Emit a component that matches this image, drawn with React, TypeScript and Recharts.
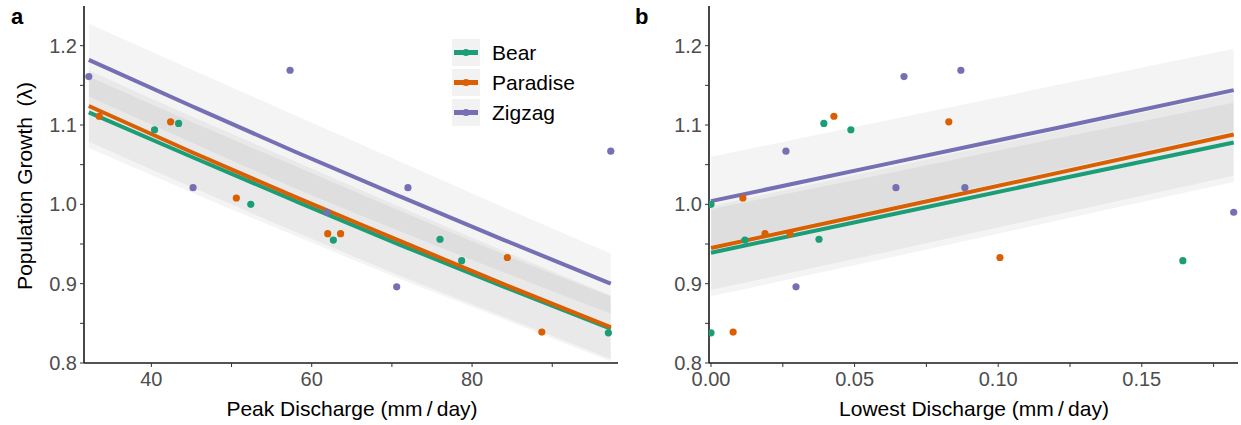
import { ComposedChart, Area, Line, Scatter, XAxis, YAxis } from "recharts";

const FONT = "'Liberation Sans', Arial, Helvetica, sans-serif";

const SITES = ["Bear", "Paradise", "Zigzag"];
const COLORS = ["#1b9e77", "#d95f02", "#7570b3"];

// yearly population growth (lambda) and the discharge of that year, per site
const BEAR_LAMBDA = [1.094, 1.102, 1.0, 0.955, 0.956, 0.929, 0.838];
const BEAR_PEAK = [40.4, 43.4, 52.4, 62.7, 76.0, 78.7, 97.0];
const BEAR_LOW = [0.0487, 0.0393, 0.0, 0.0118, 0.0376, 0.1643, 0.0];

const PARADISE_LAMBDA = [1.111, 1.104, 1.008, 0.963, 0.963, 0.933, 0.839];
const PARADISE_PEAK = [33.5, 42.4, 50.6, 62.0, 63.6, 84.4, 88.7];
const PARADISE_LOW = [0.0428, 0.0828, 0.0111, 0.0188, 0.0275, 0.1006, 0.0077];

const ZIGZAG_LAMBDA = [1.161, 1.021, 1.169, 1.021, 0.99, 0.896, 1.067];
const ZIGZAG_PEAK = [32.2, 45.2, 57.3, 72.0, 61.9, 70.6, 97.3];
const ZIGZAG_LOW = [0.0672, 0.0644, 0.087, 0.0884, 0.182, 0.0296, 0.0261];

// fitted lines and confidence ribbons, panel a (peak discharge)
const PEAK_FIT_X = [32.2, 45, 58, 71, 84, 97.3];
const BEAR_PEAK_FIT = [1.116, 1.06, 1.004, 0.949, 0.896, 0.843];
const BEAR_PEAK_LO = [1.071, 1.015, 0.96, 0.906, 0.855, 0.802];
const BEAR_PEAK_HI = [1.161, 1.104, 1.048, 0.992, 0.937, 0.884];
const PARADISE_PEAK_FIT = [1.124, 1.066, 1.009, 0.954, 0.899, 0.845];
const PARADISE_PEAK_LO = [1.079, 1.022, 0.965, 0.91, 0.858, 0.805];
const PARADISE_PEAK_HI = [1.169, 1.111, 1.054, 0.997, 0.941, 0.885];
const ZIGZAG_PEAK_FIT = [1.182, 1.124, 1.066, 1.01, 0.955, 0.9];
const ZIGZAG_PEAK_LO = [1.136, 1.078, 1.02, 0.966, 0.914, 0.862];
const ZIGZAG_PEAK_HI = [1.228, 1.17, 1.112, 1.054, 0.996, 0.938];

// panel b (lowest discharge)
const LOW_FIT_X = [0, 0.06, 0.12, 0.182];
const BEAR_LOW_FIT = [0.939, 0.985, 1.031, 1.078];
const BEAR_LOW_LO = [0.884, 0.931, 0.979, 1.028];
const BEAR_LOW_HI = [0.994, 1.038, 1.083, 1.128];
const PARADISE_LOW_FIT = [0.945, 0.992, 1.039, 1.088];
const PARADISE_LOW_LO = [0.892, 0.939, 0.987, 1.036];
const PARADISE_LOW_HI = [0.998, 1.045, 1.092, 1.14];
const ZIGZAG_LOW_FIT = [1.004, 1.05, 1.096, 1.144];
const ZIGZAG_LOW_LO = [0.948, 0.995, 1.043, 1.092];
const ZIGZAG_LOW_HI = [1.06, 1.105, 1.15, 1.196];

const Y_TICKS = [0.8, 0.85, 0.9, 0.95, 1.0, 1.05, 1.1, 1.15, 1.2];
const PEAK_TICKS = [40, 50, 60, 70, 80, 90];
const LOW_TICKS = [0, 0.025, 0.05, 0.075, 0.1, 0.125, 0.15, 0.175];

const yFmt = (v: number) => (Math.round(v * 100) % 10 === 0 ? v.toFixed(1) : "");
const peakFmt = (v: number) => (v % 20 === 0 ? String(v) : "");
const lowFmt = (v: number) => (Math.round(v * 1000) % 50 === 0 ? v.toFixed(2) : "");

function fitRows(xs: number[], fit: number[], lo: number[], hi: number[]) {
  return xs.map((x, i) => ({ x, y: fit[i], band: [lo[i], hi[i]] }));
}
function pointRows(xs: number[], ys: number[]) {
  return xs.map((x, i) => ({ x, y: ys[i] }));
}

const PEAK_FITS = [
  fitRows(PEAK_FIT_X, BEAR_PEAK_FIT, BEAR_PEAK_LO, BEAR_PEAK_HI),
  fitRows(PEAK_FIT_X, PARADISE_PEAK_FIT, PARADISE_PEAK_LO, PARADISE_PEAK_HI),
  fitRows(PEAK_FIT_X, ZIGZAG_PEAK_FIT, ZIGZAG_PEAK_LO, ZIGZAG_PEAK_HI),
];
const LOW_FITS = [
  fitRows(LOW_FIT_X, BEAR_LOW_FIT, BEAR_LOW_LO, BEAR_LOW_HI),
  fitRows(LOW_FIT_X, PARADISE_LOW_FIT, PARADISE_LOW_LO, PARADISE_LOW_HI),
  fitRows(LOW_FIT_X, ZIGZAG_LOW_FIT, ZIGZAG_LOW_LO, ZIGZAG_LOW_HI),
];
const PEAK_POINTS = [
  pointRows(BEAR_PEAK, BEAR_LAMBDA),
  pointRows(PARADISE_PEAK, PARADISE_LAMBDA),
  pointRows(ZIGZAG_PEAK, ZIGZAG_LAMBDA),
];
const LOW_POINTS = [
  pointRows(BEAR_LOW, BEAR_LAMBDA),
  pointRows(PARADISE_LOW, PARADISE_LAMBDA),
  pointRows(ZIGZAG_LOW, ZIGZAG_LAMBDA),
];

const tickStyle = { fill: "#4d4d4d", fontSize: 20, fontFamily: FONT };

function Panel(props: any) {
  const { width, right, yWidth, xDomain, xTicks, xFmt, fits, points, curve } = props;
  return (
    <ComposedChart width={width} height={425} margin={{ top: 6, right, bottom: 0, left: 0 }}>
      <XAxis
        type="number"
        dataKey="x"
        domain={xDomain}
        ticks={xTicks}
        tickFormatter={xFmt}
        allowDataOverflow
        interval={0}
        height={62}
        tick={tickStyle}
        tickSize={4}
        tickMargin={5}
        tickLine={{ stroke: "#333" }}
        axisLine={{ stroke: "#1a1a1a", strokeWidth: 1.6 }}
      />
      <YAxis
        type="number"
        domain={[0.8, 1.25]}
        ticks={Y_TICKS}
        tickFormatter={yFmt}
        allowDataOverflow
        interval={0}
        width={yWidth}
        tick={tickStyle}
        tickSize={4}
        tickMargin={3}
        tickLine={{ stroke: "#333" }}
        axisLine={{ stroke: "#1a1a1a", strokeWidth: 1.6 }}
      />
      {fits.map((rows: any[], i: number) => (
        <Area
          key={"band" + i}
          data={rows}
          dataKey="band"
          type={curve}
          stroke="none"
          fill="#000"
          fillOpacity={0.042}
          isAnimationActive={false}
        />
      ))}
      {fits.map((rows: any[], i: number) => (
        <Line
          key={"fit" + i}
          data={rows}
          dataKey="y"
          type={curve}
          stroke={COLORS[i]}
          strokeWidth={4}
          dot={false}
          isAnimationActive={false}
        />
      ))}
      {points.map((rows: any[], i: number) => (
        <Scatter
          key={"pts" + i}
          data={rows}
          dataKey="y"
          fill={COLORS[i]}
          isAnimationActive={false}
          shape={(p: any) => <circle cx={p.cx} cy={p.cy} r={3.6} fill={COLORS[i]} />}
        />
      ))}
    </ComposedChart>
  );
}

export default function App() {
  return (
    <div style={{ position: "absolute", left: 0, top: 0, width: 1241, height: 425, background: "#fff", fontFamily: FONT }}>
      <div style={{ position: "absolute", left: 0, top: 0 }}>
        <Panel width={620} right={2} yWidth={84} xDomain={[31.6, 98.2]} xTicks={PEAK_TICKS} xFmt={peakFmt}
          fits={PEAK_FITS} points={PEAK_POINTS} curve="monotone" />
      </div>
      <div style={{ position: "absolute", left: 620, top: 0 }}>
        <Panel width={621} right={3} yWidth={89} xDomain={[-0.0007, 0.1835]} xTicks={LOW_TICKS} xFmt={lowFmt}
          fits={LOW_FITS} points={LOW_POINTS} curve="linear" />
      </div>
      <svg width={1241} height={425} style={{ position: "absolute", left: 0, top: 0, pointerEvents: "none" }}>
        <text x={11} y={24} fontSize={22} fontWeight="bold" fill="#000">a</text>
        <text x={635} y={24} fontSize={22} fontWeight="bold" fill="#000">b</text>
        <text transform="translate(32,186) rotate(-90)" textAnchor="middle" fontSize={21} fill="#000">
          {"Population Growth\u2002(λ)"}
        </text>
        <text x={352} y={416} textAnchor="middle" fontSize={21} fill="#000">{"Peak Discharge (mm\u2009/\u2009day)"}</text>
        <text x={974} y={416} textAnchor="middle" fontSize={21} fill="#000">{"Lowest Discharge (mm\u2009/\u2009day)"}</text>
        {SITES.map((s, i) => (
          <g key={s}>
            <rect x={452} y={39 + i * 30} width={28} height={27} fill="#f2f2f2" />
            <line x1={454} y1={52.5 + i * 30} x2={478} y2={52.5 + i * 30} stroke={COLORS[i]} strokeWidth={5} />
            <circle cx={466} cy={52.5 + i * 30} r={3.6} fill={COLORS[i]} />
            <text x={492} y={60 + i * 30} fontSize={21} fill="#000">{s}</text>
          </g>
        ))}
      </svg>
    </div>
  );
}
